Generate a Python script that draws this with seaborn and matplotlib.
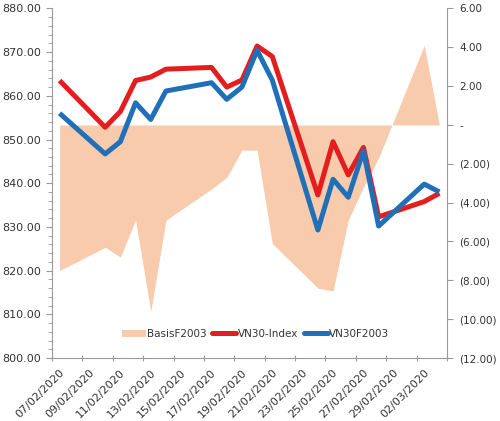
import pandas as pd
import numpy as np
import matplotlib
matplotlib.use("Agg")
import matplotlib.pyplot as plt
import matplotlib.ticker as mticker
from matplotlib.patches import Patch
from matplotlib.lines import Line2D
from matplotlib.transforms import ScaledTranslation
import seaborn as sns

# =============================
# Data
# =============================
dates = ["07/02/2020", "10/02/2020", "11/02/2020", "12/02/2020", "13/02/2020", "14/02/2020",
         "17/02/2020", "18/02/2020", "19/02/2020", "20/02/2020", "21/02/2020",
         "24/02/2020", "25/02/2020", "26/02/2020", "27/02/2020", "28/02/2020",
         "02/03/2020", "03/03/2020"]
vn30_index = [863.5, 852.8, 856.4, 863.5, 864.3, 866.1,
              866.5, 862.0, 863.6, 871.4, 869.0,
              837.3, 849.5, 841.9, 848.2, 832.3,
              835.8, 837.7]
vn30f2003 = [856.0, 846.7, 849.5, 858.4, 854.6, 861.1,
             863.0, 859.2, 862.0, 870.4, 863.6,
             829.3, 840.9, 836.8, 847.4, 830.2,
             839.8, 838.0]
basis_f2003 = [-7.5, -6.3, -6.8, -4.9, -9.6, -4.9,
               -3.3, -2.7, -1.3, -1.3, -6.1,
               -8.4, -8.55, -4.9, -3.2, -1.7,
               4.1, 0.0]

# Excel date axis: each day is a slot, points sit in the middle of their slot
day = pd.to_datetime(dates, dayfirst=True) + pd.Timedelta(hours=12)
data = pd.DataFrame({
    "Date": day,
    "VN30-Index": vn30_index,
    "VN30F2003": vn30f2003,
    "BasisF2003": basis_f2003,
})

red = "#E41E1E"
blue = "#1F70B8"
pink = "#F8CBAD"
txt = "#333333"
axis_grey = "#9A9A9A"

# =============================
# Figure
# =============================
sns.set_theme(style="white")
plt.rcParams["font.family"] = ["DejaVu Sans"]

fig = plt.figure(figsize=(5.0, 4.21), dpi=100)
ax = fig.add_axes([0.104, 0.1496, 0.79, 0.8304])
ax2 = ax.twinx()

# basis area on the right axis, drawn behind the lines
ax2.fill_between(data["Date"], data["BasisF2003"], 0, color=pink, linewidth=0)
ax.set_zorder(ax2.get_zorder() + 1)
ax.patch.set_visible(False)

sns.lineplot(data=data, x="Date", y="VN30-Index", ax=ax, color=red, linewidth=3.6,
             solid_joinstyle="round", solid_capstyle="butt")
sns.lineplot(data=data, x="Date", y="VN30F2003", ax=ax, color=blue, linewidth=3.6,
             solid_joinstyle="round", solid_capstyle="butt")

# axes limits
ax.set_ylim(800, 880)
ax2.set_ylim(-12, 6)
ax.set_xlim(pd.Timestamp("2020-02-07"), pd.Timestamp("2020-03-04"))

# x ticks every two days
xticks = pd.date_range("2020-02-07", "2020-03-04", freq="2D")
xlabels = [d.strftime("%d/%m/%Y") for d in xticks[:-1]] + [""]
ax.set_xticks(xticks)
ax.set_xticklabels(xlabels, rotation=45, ha="right", rotation_mode="anchor")
ax.set_xlabel("")
ax.set_ylabel("")
ax2.set_ylabel("")

# left axis
ax.yaxis.set_major_locator(mticker.MultipleLocator(10))
ax.yaxis.set_minor_locator(mticker.MultipleLocator(2))
ax.yaxis.set_major_formatter(mticker.FormatStrFormatter("%.2f"))


def acct(v, pos):
    if abs(v) < 1e-9:
        return "-"
    if v < 0:
        return "({:.2f})".format(-v)
    return "{:.2f}".format(v)


ax2.yaxis.set_major_locator(mticker.MultipleLocator(2))
ax2.yaxis.set_major_formatter(mticker.FuncFormatter(acct))

ax.spines["top"].set_visible(False)
ax2.spines["top"].set_visible(False)
ax2.spines["left"].set_visible(False)
ax2.spines["bottom"].set_visible(False)
ax.spines["right"].set_visible(False)
for s in ["left", "bottom"]:
    ax.spines[s].set_color(axis_grey)
    ax.spines[s].set_linewidth(0.8)
ax2.spines["right"].set_color(axis_grey)
ax2.spines["right"].set_linewidth(0.8)

ax.tick_params(axis="x", which="major", direction="inout", length=5, width=0.8,
               color=axis_grey, labelsize=8, labelcolor=txt, pad=4, bottom=True)
ax.tick_params(axis="y", which="major", direction="out", length=4, width=0.8,
               color=axis_grey, labelsize=8, labelcolor=txt, pad=4, left=True)
ax.tick_params(axis="y", which="minor", direction="out", length=3, width=0.6,
               color=axis_grey, left=True)
ax2.tick_params(axis="y", which="major", direction="out", length=4, width=0.8,
                color=axis_grey, labelsize=7.5, labelcolor=txt, pad=5, right=True)

# nudge rotated date labels like Excel
offset = ScaledTranslation(7 / 100, 0, fig.dpi_scale_trans)
for lab in ax.get_xticklabels():
    lab.set_transform(lab.get_transform() + offset)

# legend
handles = [
    Patch(facecolor=pink, edgecolor="none"),
    Line2D([0], [0], color=red, linewidth=3.6),
    Line2D([0], [0], color=blue, linewidth=3.6),
]
ax.legend(handles, ["BasisF2003", "VN30-Index", "VN30F2003"], loc="center",
          bbox_to_anchor=(0.515, 0.069), ncol=3, frameon=False, fontsize=7.5,
          handlelength=2.3, handleheight=0.6, handletextpad=0.1, columnspacing=0.6,
          labelcolor=txt)

plt.savefig("out.png", dpi=100)
